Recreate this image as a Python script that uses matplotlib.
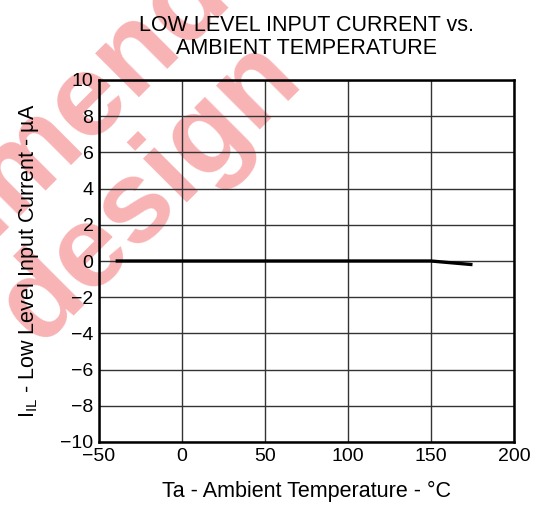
import numpy as np
import matplotlib
matplotlib.use("Agg")
import matplotlib.pyplot as plt

plt.rcParams['font.family'] = ['Liberation Sans', 'DejaVu Sans']
plt.rcParams['mathtext.fontset'] = 'custom'
plt.rcParams['mathtext.rm'] = 'Liberation Sans'

# Low level input current vs ambient temperature
temp_c = [-40, 150, 175]
i_il_ua = [0.0, 0.0, -0.2]

x_ticks = [-50, 0, 50, 100, 150, 200]
y_ticks = [-10, -8, -6, -4, -2, 0, 2, 4, 6, 8, 10]

fig = plt.figure(figsize=(5.4, 5.2), dpi=100)

# watermark behind the plot
wm_color = '#f8b3b5'
fig.text(26 / 540, 1 - 160 / 520, 'recommended', rotation=45, color=wm_color,
         fontsize=84, fontweight='bold', ha='center', va='center',
         rotation_mode='anchor', zorder=0)
fig.text(150 / 540, 1 - 192 / 520, 'design', rotation=45, color=wm_color,
         fontsize=84, fontweight='bold', ha='center', va='center',
         rotation_mode='anchor', zorder=0)

ax = fig.add_axes([99 / 540, 1 - 442 / 520, 415 / 540, 362 / 520])
ax.set_zorder(1)
ax.patch.set_alpha(0)

ax.plot(temp_c, i_il_ua, color='black', lw=2.4, solid_capstyle='butt')

ax.set_xlim(-50, 200)
ax.set_ylim(-10, 10)
ax.set_xticks(x_ticks)
ax.set_yticks(y_ticks)
ax.grid(True, color='#333333', lw=1)
ax.tick_params(length=0, labelsize=14, pad=4)
for sp in ax.spines.values():
    sp.set_linewidth(1.8)

ax.set_xlabel('Ta - Ambient Temperature - °C', fontsize=15.5, labelpad=12)
ax.set_ylabel(r'I$_{\mathregular{IL}}$ - Low Level Input Current - µA', fontsize=15.5, labelpad=14)
ax.set_title('LOW LEVEL INPUT CURRENT vs.\nAMBIENT TEMPERATURE', fontsize=15.5,
             pad=19, linespacing=1.1)

fig.savefig('out.png', dpi=100)
